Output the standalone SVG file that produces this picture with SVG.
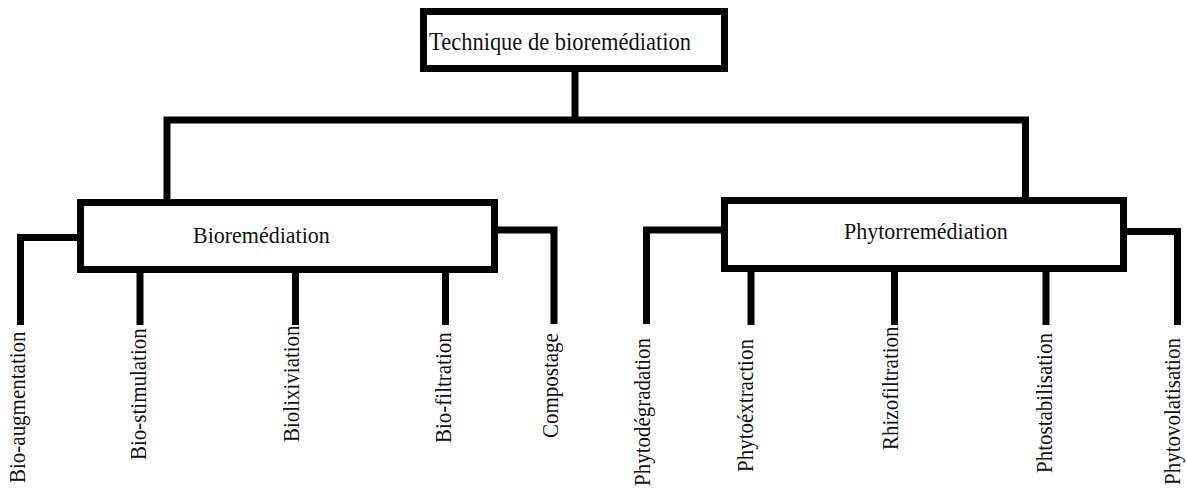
<svg xmlns="http://www.w3.org/2000/svg" width="1187" height="488" viewBox="0 0 1187 488">
<style>
.box{fill:#fff;stroke:#000;stroke-width:7}
.ln{fill:none;stroke:#000;stroke-width:7;stroke-linejoin:miter;stroke-linecap:butt}
.t{font-family:"Liberation Serif","Times New Roman",serif;font-size:22px;fill:#111}
.lab{font-family:"Liberation Serif","Times New Roman",serif;font-size:21px;fill:#111}
</style>
<rect width="1187" height="488" fill="#fff"/>
<g id="connectors">
<path class="ln" d="M575,68 V120"/>
<path class="ln" d="M167,203 V120 H1025.5 V201"/>
<path class="ln" d="M80,237.5 H20.5 V325"/>
<path class="ln" d="M140,270 V325"/>
<path class="ln" d="M295.5,270 V325"/>
<path class="ln" d="M445.5,270 V325"/>
<path class="ln" d="M494,230 H554 V324"/>
<path class="ln" d="M724,230 H646.5 V324"/>
<path class="ln" d="M751,268 V325"/>
<path class="ln" d="M894.5,268 V325"/>
<path class="ln" d="M1046,268 V325"/>
<path class="ln" d="M1124,231.5 H1177.5 V325"/>
</g>
<g id="root">
<rect class="box" x="423.5" y="11.5" width="301" height="57"/>
<text class="t" transform="translate(429,49.5) scale(1,1.18)" textLength="262" lengthAdjust="spacingAndGlyphs">Technique de bioremédiation</text>
</g>
<g id="bioremediation">
<rect class="box" x="80.5" y="202.5" width="414" height="67"/>
<text class="t" transform="translate(193,243) scale(1,1.04)">Bioremédiation</text>
</g>
<g id="phytoremediation">
<rect class="box" x="724.5" y="200.5" width="399" height="68"/>
<text class="t" transform="translate(844,239) scale(1,1.04)">Phytorremédiation</text>
</g>
<g id="bio-augmentation"><text class="lab" transform="translate(25,483) rotate(-90) scale(1,1.08)">Bio-augmentation</text></g>
<g id="bio-stimulation"><text class="lab" transform="translate(146,460) rotate(-90) scale(1,1.08)">Bio-stimulation</text></g>
<g id="biolixiviation"><text class="lab" transform="translate(299,442) rotate(-90) scale(1,1.08)">Biolixiviation</text></g>
<g id="bio-filtration"><text class="lab" transform="translate(451,443) rotate(-90) scale(1,1.08)">Bio-filtration</text></g>
<g id="compostage"><text class="lab" transform="translate(558,438) rotate(-90) scale(1,1.08)">Compostage</text></g>
<g id="phytodegradation"><text class="lab" transform="translate(650,486) rotate(-90) scale(1,1.08)">Phytodégradation</text></g>
<g id="phytoextraction"><text class="lab" transform="translate(753,472) rotate(-90) scale(1,1.08)">Phytoéxtraction</text></g>
<g id="rhizofiltration"><text class="lab" transform="translate(898,450) rotate(-90) scale(1,1.08)">Rhizofiltration</text></g>
<g id="phtostabilisation"><text class="lab" transform="translate(1052,473) rotate(-90) scale(1,1.08)">Phtostabilisation</text></g>
<g id="phytovolatisation"><text class="lab" transform="translate(1180,485) rotate(-90) scale(1,1.08)">Phytovolatisation</text></g>
</svg>
